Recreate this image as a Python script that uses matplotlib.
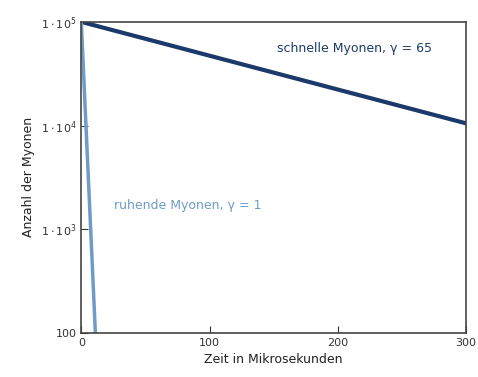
import matplotlib
matplotlib.use('Agg')
import matplotlib.pyplot as plt

# Zeit in Mikrosekunden, Anzahl der Myonen
t_schnell = [0, 300]
n_schnell = [1e5, 1.05e4]
t_ruhend = [0, 11]
n_ruhend = [1e5, 100]

y_ticks = [100, 1e3, 1e4, 1e5]
y_labels = ['100', r'$1\cdot10^{3}$', r'$1\cdot10^{4}$', r'$1\cdot10^{5}$']
x_ticks = [0, 100, 200, 300]

navy = '#1b3a6b'
hell = '#6e9cc6'

fig = plt.figure(figsize=(4.78, 3.77), dpi=100)
ax = fig.add_axes([0.170, 0.117, 0.805, 0.825])

ax.plot(t_schnell, n_schnell, color=navy, linewidth=3)
ax.plot(t_ruhend, n_ruhend, color=hell, linewidth=2.5)

ax.set_yscale('log')
ax.set_xlim(0, 300)
ax.set_ylim(100, 1e5)
ax.set_yticks(y_ticks)
ax.set_yticklabels(y_labels)
ax.minorticks_off()
ax.set_xticks(x_ticks)
ax.tick_params(direction='in', length=5, labelsize=8, colors='#333333')
for s in ax.spines.values():
    s.set_color('#444444')
    s.set_linewidth(1.2)

ax.text(213, 5.5e4, 'schnelle Myonen, γ = 65', color=navy, fontsize=9, ha='center', va='center')
ax.text(83, 1.7e3, 'ruhende Myonen, γ = 1', color=hell, fontsize=9, ha='center', va='center')

ax.set_xlabel('Zeit in Mikrosekunden', fontsize=9, color='#222222')
ax.set_ylabel('Anzahl der Myonen', fontsize=9, color='#222222')

fig.savefig('out.png', dpi=100)
